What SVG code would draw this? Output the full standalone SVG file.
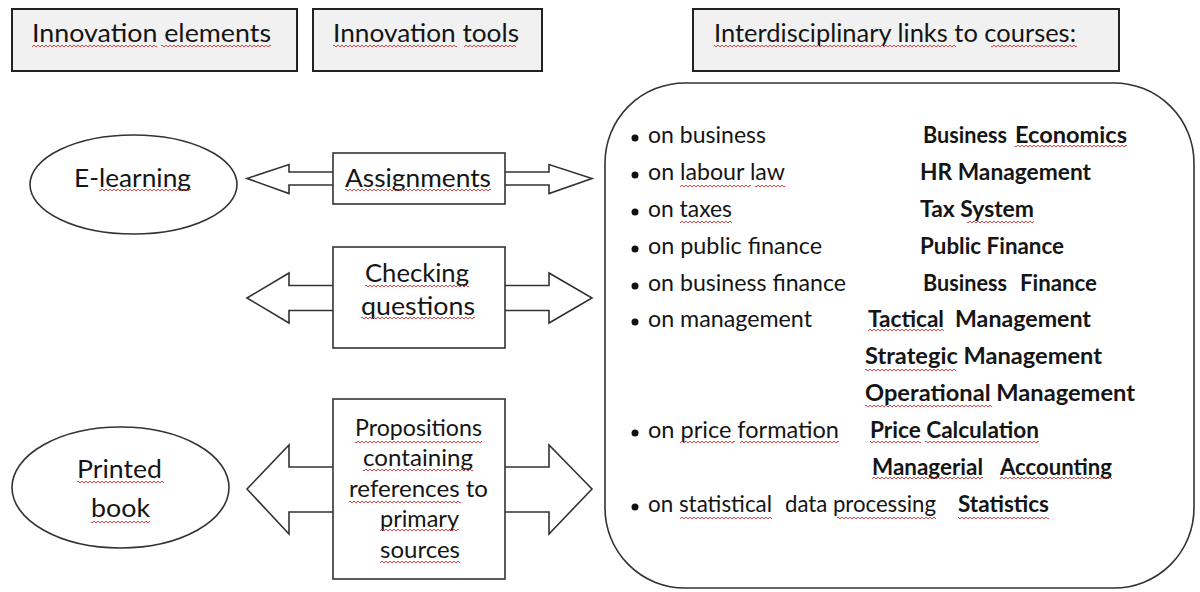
<svg xmlns="http://www.w3.org/2000/svg" width="1200" height="592" viewBox="0 0 1200 592">
<style>
.hdr{fill:#f1f1f1;stroke:#222;stroke-width:2}
.shape{fill:#fff;stroke:#333;stroke-width:1.6}
.arrow{fill:#fff;stroke:#333;stroke-width:1.6;stroke-linejoin:miter}
text{font-family:Lato,"Open Sans","Liberation Sans",sans-serif;fill:#151515}
.t25{font-size:25px}
.t23{font-size:23px}
.b{font-weight:bold}
.sq{fill:url(#sq)}
</style>
<defs>
<pattern id="sq" width="4" height="4" patternUnits="userSpaceOnUse">
<path d="M0,3 L2,1 L4,3" fill="none" stroke="#d23030" stroke-width="0.9"/>
</pattern>
</defs>
<rect width="1200" height="592" fill="#fff"/>

<g id="header-elements">
<rect class="hdr" x="12" y="9" width="285" height="62"/>
<text class="t25" x="32" y="42" textLength="239" lengthAdjust="spacingAndGlyphs">Innovation elements</text>
<rect class="sq" x="32" y="44" width="125" height="4"/><rect class="sq" x="161" y="44" width="110" height="4"/>
</g>
<g id="header-tools">
<rect class="hdr" x="313" y="9" width="229" height="62"/>
<text class="t25" x="333" y="42" textLength="186" lengthAdjust="spacingAndGlyphs">Innovation tools</text>
<rect class="sq" x="333" y="44" width="124" height="4"/><rect class="sq" x="464" y="44" width="52" height="4"/>
</g>
<g id="header-links">
<rect class="hdr" x="693" y="9" width="426" height="62"/>
<text class="t25" x="714" y="42" textLength="362" lengthAdjust="spacingAndGlyphs">Interdisciplinary links to courses:</text>
<rect class="sq" x="714" y="44" width="242" height="4"/><rect class="sq" x="991" y="44" width="86" height="4"/>
</g>

<g id="connectors">
<polygon class="arrow" points="247,178.5 289,164.5 289,172 549,172 549,164.5 592,178.5 549,193.5 549,185 289,185 289,193.5"/>
<polygon class="arrow" points="247,298 289,273 289,285.5 549,285.5 549,273 592,298 549,323 549,310.5 289,310.5 289,323"/>
<polygon class="arrow" points="247,489 289,445 289,467 549,467 549,445 592,489 549,534 549,512 289,512 289,534"/>
</g>

<g id="node-elearning">
<ellipse class="shape" cx="133.5" cy="184.5" rx="103.5" ry="49.5"/>
<text class="t25" x="74" y="187" textLength="117" lengthAdjust="spacingAndGlyphs">E-learning</text>
<rect class="sq" x="99" y="188" width="92" height="4"/>
</g>
<g id="node-printed-book">
<ellipse class="shape" cx="120.5" cy="487.5" rx="108.5" ry="60.5"/>
<text class="t25" x="77" y="478" textLength="85" lengthAdjust="spacingAndGlyphs">Printed</text>
<text class="t25" x="91" y="517" textLength="59" lengthAdjust="spacingAndGlyphs">book</text>
<rect class="sq" x="77" y="480" width="87" height="4"/><rect class="sq" x="91" y="520" width="59" height="4"/>
</g>
<g id="node-assignments">
<rect class="shape" x="333" y="153" width="172" height="51"/>
<text class="t25" x="345" y="187" textLength="146" lengthAdjust="spacingAndGlyphs">Assignments</text>
<rect class="sq" x="345" y="188" width="146" height="4"/>
</g>
<g id="node-checking">
<rect class="shape" x="333" y="247" width="172" height="101"/>
<text class="t25" x="365" y="282" textLength="104" lengthAdjust="spacingAndGlyphs">Checking</text>
<text class="t25" x="361" y="315" textLength="114" lengthAdjust="spacingAndGlyphs">questions</text>
<rect class="sq" x="365" y="284" width="104" height="4"/><rect class="sq" x="361" y="316" width="114" height="4"/>
</g>
<g id="node-propositions">
<rect class="shape" x="333" y="399" width="172" height="180"/>
<text class="t23" x="355" y="436" textLength="127" lengthAdjust="spacingAndGlyphs">Propositions</text>
<text class="t23" x="363" y="466" textLength="110" lengthAdjust="spacingAndGlyphs">containing</text>
<text class="t23" x="349" y="497" textLength="139" lengthAdjust="spacingAndGlyphs">references to</text>
<text class="t23" x="380" y="527" textLength="79" lengthAdjust="spacingAndGlyphs">primary</text>
<text class="t23" x="380" y="558" textLength="80" lengthAdjust="spacingAndGlyphs">sources</text>
<rect class="sq" x="355" y="440" width="127" height="4"/>
<rect class="sq" x="363" y="468" width="110" height="4"/>
<rect class="sq" x="349" y="500" width="112" height="4"/>
<rect class="sq" x="380" y="528" width="79" height="4"/>
<rect class="sq" x="380" y="560" width="80" height="4"/>
</g>

<g id="node-links">
<rect class="shape" x="605" y="83" width="589" height="505" rx="80" ry="80"/>
<g fill="#111">
<circle cx="635" cy="138" r="3.5"/><circle cx="635" cy="175" r="3.5"/><circle cx="635" cy="212" r="3.5"/>
<circle cx="635" cy="249" r="3.5"/><circle cx="635" cy="286" r="3.5"/><circle cx="635" cy="322" r="3.5"/>
<circle cx="635" cy="433" r="3.5"/><circle cx="635" cy="507" r="3.5"/>
</g>
<text class="t23" x="648" y="143" textLength="118" lengthAdjust="spacingAndGlyphs">on business</text>
<text class="t23 b" x="923" y="143" textLength="84" lengthAdjust="spacingAndGlyphs">Business</text>
<text class="t23 b" x="1015" y="143" textLength="112" lengthAdjust="spacingAndGlyphs">Economics</text>
<text class="t23" x="648" y="180" textLength="137" lengthAdjust="spacingAndGlyphs">on labour law</text>
<text class="t23 b" x="920" y="180" textLength="171" lengthAdjust="spacingAndGlyphs">HR Management</text>
<text class="t23" x="648" y="217" textLength="84" lengthAdjust="spacingAndGlyphs">on taxes</text>
<text class="t23 b" x="920" y="217" textLength="114" lengthAdjust="spacingAndGlyphs">Tax System</text>
<text class="t23" x="648" y="254" textLength="174" lengthAdjust="spacingAndGlyphs">on public finance</text>
<text class="t23 b" x="920" y="254" textLength="144" lengthAdjust="spacingAndGlyphs">Public Finance</text>
<text class="t23" x="648" y="291" textLength="198" lengthAdjust="spacingAndGlyphs">on business finance</text>
<text class="t23 b" x="923" y="291" textLength="84" lengthAdjust="spacingAndGlyphs">Business</text>
<text class="t23 b" x="1020" y="291" textLength="77" lengthAdjust="spacingAndGlyphs">Finance</text>
<text class="t23" x="648" y="327" textLength="164" lengthAdjust="spacingAndGlyphs">on management</text>
<text class="t23 b" x="868" y="327" textLength="76" lengthAdjust="spacingAndGlyphs">Tactical</text>
<text class="t23 b" x="955" y="327" textLength="136" lengthAdjust="spacingAndGlyphs">Management</text>
<text class="t23 b" x="865" y="364" textLength="237" lengthAdjust="spacingAndGlyphs">Strategic Management</text>
<text class="t23 b" x="865" y="401" textLength="270" lengthAdjust="spacingAndGlyphs">Operational Management</text>
<text class="t23" x="648" y="438" textLength="191" lengthAdjust="spacingAndGlyphs">on price formation</text>
<text class="t23 b" x="870" y="438" textLength="169" lengthAdjust="spacingAndGlyphs">Price Calculation</text>
<text class="t23 b" x="872" y="475" textLength="111" lengthAdjust="spacingAndGlyphs">Managerial</text>
<text class="t23 b" x="1000" y="475" textLength="112" lengthAdjust="spacingAndGlyphs">Accounting</text>
<text class="t23" x="648" y="512" textLength="124" lengthAdjust="spacingAndGlyphs">on statistical</text>
<text class="t23" x="785" y="512" textLength="151" lengthAdjust="spacingAndGlyphs">data processing</text>
<text class="t23 b" x="958" y="512" textLength="91" lengthAdjust="spacingAndGlyphs">Statistics</text>
<rect class="sq" x="1015" y="144" width="112" height="4"/>
<rect class="sq" x="680" y="184" width="71" height="4"/><rect class="sq" x="755" y="184" width="30" height="4"/>
<rect class="sq" x="680" y="220" width="52" height="4"/><rect class="sq" x="967" y="220" width="67" height="4"/>
<rect class="sq" x="868" y="328" width="76" height="4"/>
<rect class="sq" x="865" y="368" width="91" height="4"/>
<rect class="sq" x="865" y="404" width="127" height="4"/>
<rect class="sq" x="680" y="440" width="55" height="4"/><rect class="sq" x="740" y="440" width="99" height="4"/>
<rect class="sq" x="870" y="440" width="51" height="4"/><rect class="sq" x="925" y="440" width="114" height="4"/>
<rect class="sq" x="872" y="476" width="111" height="4"/><rect class="sq" x="1000" y="476" width="112" height="4"/>
<rect class="sq" x="680" y="516" width="92" height="4"/><rect class="sq" x="837" y="516" width="99" height="4"/>
<rect class="sq" x="958" y="516" width="91" height="4"/>
</g>
</svg>
